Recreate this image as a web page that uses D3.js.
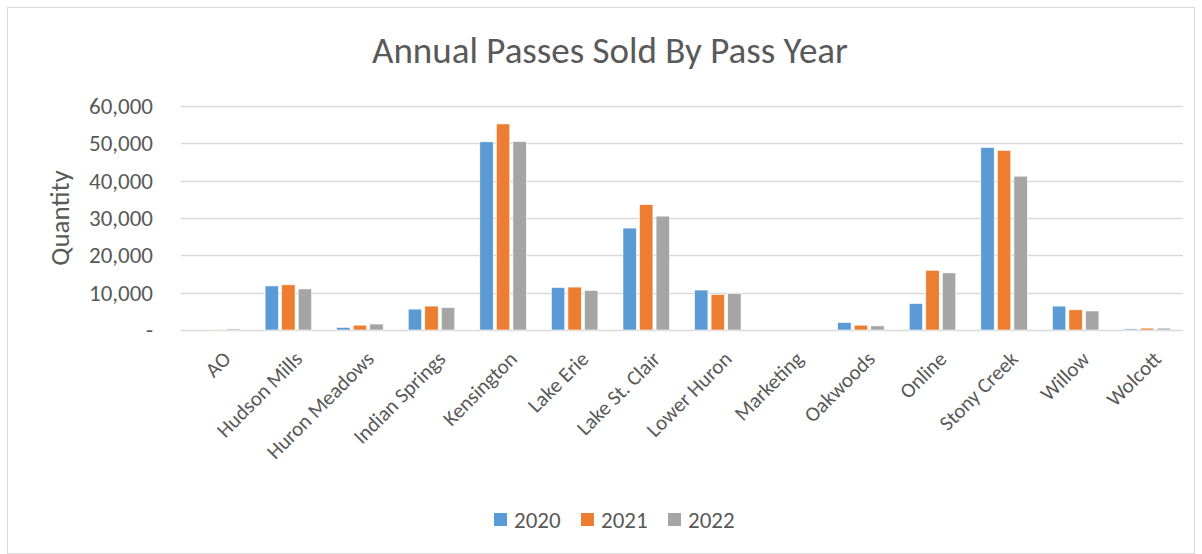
<!DOCTYPE html>
<html>
<head>
<meta charset="utf-8">
<script src="https://cdn.jsdelivr.net/npm/d3@7/dist/d3.min.js"></script>
<style>
  body { margin: 0; background: #fff; }
  svg text { font-family: Carlito, Lato, "Noto Sans", sans-serif; fill: #595959; }
</style>
</head>
<body>
<div id="chart"></div>
<script>
"use strict";

// categories and series
var parks = ["AO", "Hudson Mills", "Huron Meadows", "Indian Springs", "Kensington",
  "Lake Erie", "Lake St. Clair", "Lower Huron", "Marketing", "Oakwoods",
  "Online", "Stony Creek", "Willow", "Wolcott"];
var years = ["2020", "2021", "2022"];
var sold2020 = [0, 11800, 700, 5600, 50400, 11400, 27300, 10700, 0, 2000, 7100, 48900, 6400, 300];
var sold2021 = [200, 12100, 1300, 6400, 55200, 11500, 33600, 9500, 0, 1300, 16000, 48100, 5400, 500];
var sold2022 = [300, 11000, 1600, 6000, 50500, 10600, 30500, 9800, 0, 1100, 15300, 41200, 5100, 500];
var yTicks = [0, 10000, 20000, 30000, 40000, 50000, 60000];
var colors = ["#5b9bd5", "#ed7d31", "#a5a5a5"];

var W = 1202, H = 554;
var margin = { top: 106, right: 19, bottom: 224, left: 181 };
var innerW = W - margin.left - margin.right;
var innerH = H - margin.top - margin.bottom;

var series = [sold2020, sold2021, sold2022];
var rows = parks.map(function (p, i) {
  return { park: p, values: years.map(function (y, k) { return { year: y, value: series[k][i] }; }) };
});

var svg = d3.select("#chart").append("svg")
  .attr("width", W)
  .attr("height", H);

// chart frame
svg.append("rect")
  .attr("x", 7.5).attr("y", 7.5)
  .attr("width", W - 15).attr("height", H - 8)
  .attr("fill", "#fff")
  .attr("stroke", "#d9d9d9");

var g = svg.append("g").attr("transform", "translate(" + margin.left + "," + margin.top + ")");

var x0 = d3.scaleBand().domain(parks).range([0, innerW]).paddingInner(0.35).paddingOuter(0.175);
var x1 = d3.scaleBand().domain(years).range([0, x0.bandwidth()]).paddingInner(0.19);
var y = d3.scaleLinear().domain([0, 60000]).range([innerH, 0]);

// gridlines
g.append("g")
  .selectAll("line")
  .data(yTicks)
  .enter().append("line")
  .attr("x1", 0).attr("x2", innerW)
  .attr("y1", function (d) { return Math.round(y(d)) + 0.5; })
  .attr("y2", function (d) { return Math.round(y(d)) + 0.5; })
  .attr("stroke", "#d9d9d9")
  .attr("stroke-width", 1.3);

// y axis labels
var fmt = d3.format(",");
var yAxis = d3.axisLeft(y).tickValues(yTicks).tickSize(0).tickPadding(28)
  .tickFormat(function (d) { return d === 0 ? "-" : fmt(d); });
g.append("g").call(yAxis)
  .call(function (a) { a.select(".domain").remove(); })
  .selectAll("text")
  .style("font-size", "23px")
  .attr("fill", "#595959");

// bars
var groups = g.selectAll(".park")
  .data(rows)
  .enter().append("g")
  .attr("class", "park")
  .attr("transform", function (d) { return "translate(" + x0(d.park) + ",0)"; });

groups.selectAll("rect")
  .data(function (d) { return d.values; })
  .enter().append("rect")
  .attr("x", function (d) { return x1(d.year); })
  .attr("y", function (d) { return y(d.value); })
  .attr("width", x1.bandwidth())
  .attr("height", function (d) { return innerH - y(d.value); })
  .attr("fill", function (d, i) { return colors[i]; })
  .attr("stroke", "#fff")
  .attr("stroke-width", 0.6);

// x axis labels, rotated so their end sits under the tick
var xAxis = d3.axisBottom(x0).tickSize(0).tickPadding(10);
g.append("g")
  .attr("transform", "translate(0," + innerH + ")")
  .call(xAxis)
  .call(function (a) { a.select(".domain").remove(); })
  .selectAll("text")
  .style("font-size", "21px")
  .attr("fill", "#595959")
  .attr("text-anchor", "end")
  .attr("dy", "0.35em")
  .attr("transform", "translate(3,18) rotate(-45)");

// axis title
svg.append("text")
  .attr("transform", "translate(69," + (margin.top + innerH / 2) + ") rotate(-90)")
  .attr("text-anchor", "middle")
  .style("font-size", "27px")
  .text("Quantity");

// title
svg.append("text")
  .attr("x", 610)
  .attr("y", 63)
  .attr("text-anchor", "middle")
  .style("font-size", "37px")
  .text("Annual Passes Sold By Pass Year");

// legend
var legend = svg.append("g").attr("transform", "translate(494,520)");
var item = legend.selectAll("g")
  .data(years)
  .enter().append("g")
  .attr("transform", function (d, i) { return "translate(" + (i * 87) + ",0)"; });
item.append("rect")
  .attr("x", 0).attr("y", -7)
  .attr("width", 13).attr("height", 13)
  .attr("fill", function (d, i) { return colors[i]; });
item.append("text")
  .attr("x", 20).attr("y", 0)
  .attr("dy", "0.35em")
  .style("font-size", "23px")
  .text(function (d) { return d; });
</script>
</body>
</html>
